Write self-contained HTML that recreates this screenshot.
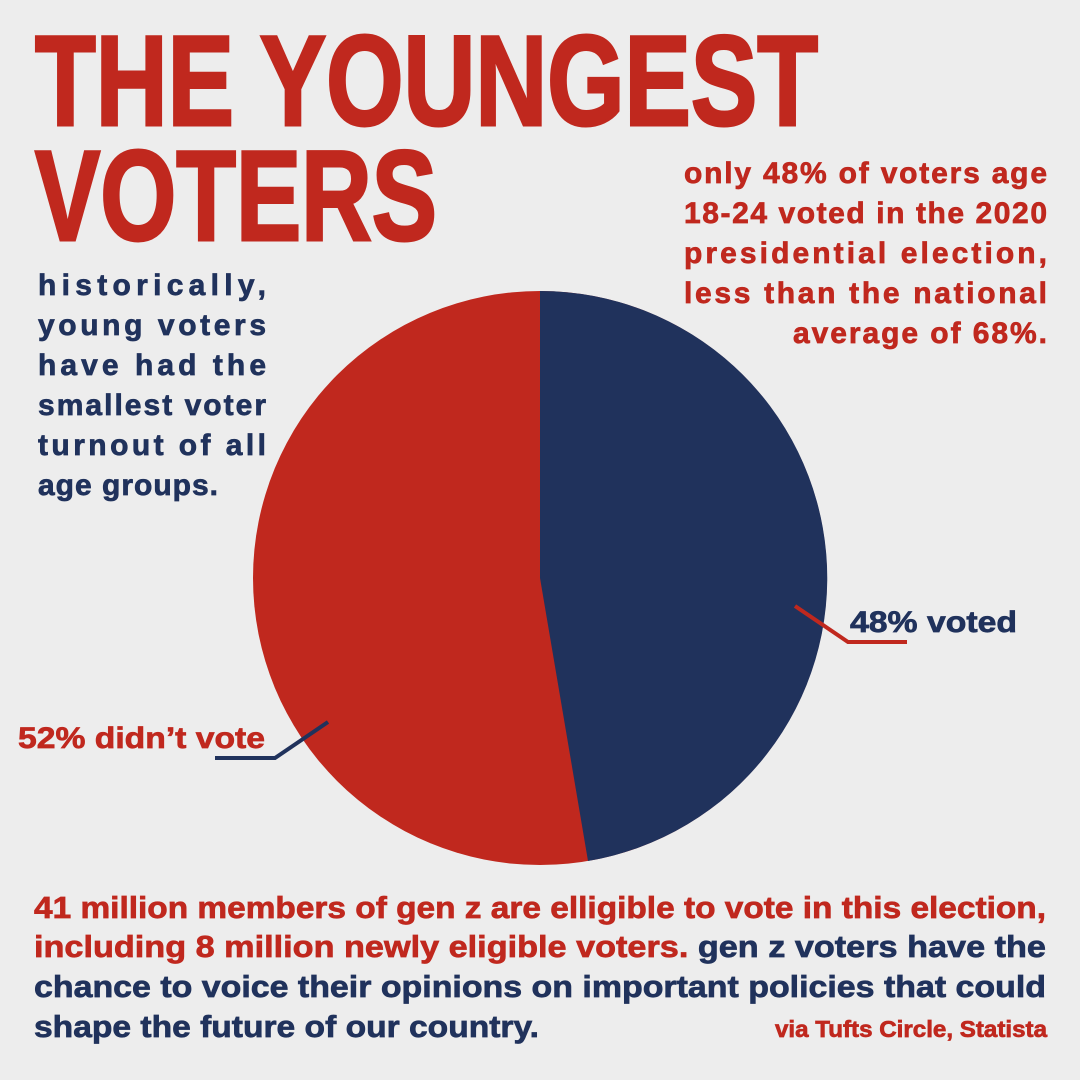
<!DOCTYPE html>
<html><head><meta charset="utf-8"><style>
html,body{margin:0;padding:0;background:#ededed;}
svg{display:block}
text{font-family:"Liberation Sans",sans-serif;font-weight:bold;}
.t{font-family:"Liberation Sans Narrow","Liberation Sans",sans-serif;}
.r{fill:#c0281e;stroke:#c0281e}.n{fill:#20325c;stroke:#20325c}
g text,g tspan{stroke-width:0.7}
</style></head><body>
<svg width="1080" height="1080" viewBox="0 0 1080 1080" xmlns="http://www.w3.org/2000/svg">
<rect width="1080" height="1080" fill="#ededed"/>
<text class="t r" x="35" y="125" font-size="128" stroke-width="3" textLength="783" lengthAdjust="spacingAndGlyphs">THE YOUNGEST</text>
<text class="t r" x="35" y="240" font-size="128" stroke-width="3" textLength="402" lengthAdjust="spacingAndGlyphs">VOTERS</text>

<g font-size="30" class="r">
<text x="684" y="183" textLength="363" lengthAdjust="spacing">only 48% of voters age</text>
<text x="684" y="223" textLength="363" lengthAdjust="spacing">18-24 voted in the 2020</text>
<text x="684" y="263" textLength="363" lengthAdjust="spacing">presidential election,</text>
<text x="684" y="303" textLength="363" lengthAdjust="spacing">less than the national</text>
<text x="793" y="343" textLength="254" lengthAdjust="spacing">average of 68%.</text>
</g>
<g font-size="30" class="n">
<text x="38" y="295" textLength="228" lengthAdjust="spacing">historically,</text>
<text x="38" y="335" textLength="228" lengthAdjust="spacing">young voters</text>
<text x="38" y="375" textLength="228" lengthAdjust="spacing">have had the</text>
<text x="38" y="415" textLength="228" lengthAdjust="spacing">smallest voter</text>
<text x="38" y="455" textLength="228" lengthAdjust="spacing">turnout of all</text>
<text x="38" y="495" textLength="180" lengthAdjust="spacing">age groups.</text>
</g>

<circle cx="540" cy="578" r="287" fill="#c0281e"/>
<path d="M540 578 L540 291 A287 287 0 0 1 588 861 Z" fill="#20325c"/>

<polyline points="795,606 848,642 907,642" fill="none" stroke="#c0281e" stroke-width="4"/>
<polyline points="328,722 275,758 215,758" fill="none" stroke="#20325c" stroke-width="4"/>
<g font-size="30">
<text class="n" x="850" y="632" textLength="167" lengthAdjust="spacingAndGlyphs">48% voted</text>
<text class="r" x="18" y="748" textLength="247" lengthAdjust="spacingAndGlyphs">52% didn’t vote</text>
</g>

<g font-size="31">
<text class="r" x="34" y="918" textLength="1012" lengthAdjust="spacingAndGlyphs">41 million members of gen z are elligible to vote in this election,</text>
<text x="34" y="957" textLength="1012" lengthAdjust="spacingAndGlyphs"><tspan class="r">including 8 million newly eligible voters.</tspan><tspan class="n"> gen z voters have the</tspan></text>
<text class="n" x="34" y="997" textLength="1012" lengthAdjust="spacingAndGlyphs">chance to voice their opinions on important policies that could</text>
<text class="n" x="34" y="1037" textLength="505" lengthAdjust="spacingAndGlyphs">shape the future of our country.</text>
<text class="r" x="775" y="1037" font-size="23" textLength="272" lengthAdjust="spacingAndGlyphs">via Tufts Circle, Statista</text>
</g>
</svg>
</body></html>
